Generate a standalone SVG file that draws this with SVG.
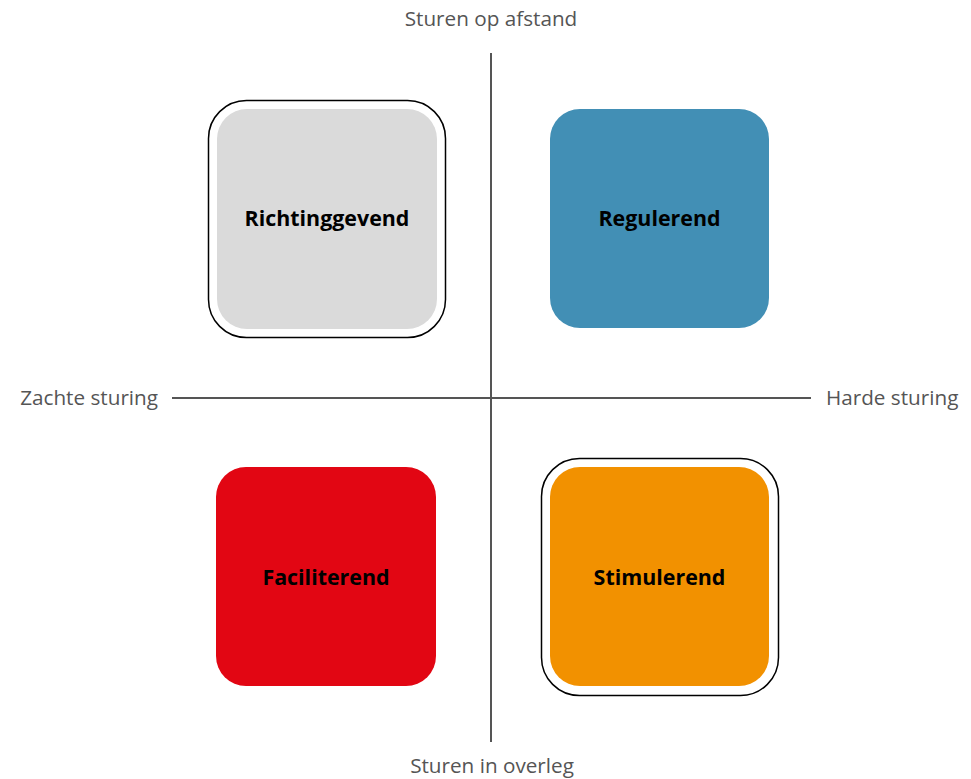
<svg xmlns="http://www.w3.org/2000/svg" width="971" height="779" viewBox="0 0 971 779">
<style>
.axis{stroke:#555;stroke-width:2;fill:none}
.lbl{font-family:"Open Sans","Liberation Sans",sans-serif;font-size:20.7px;fill:#555}
.nt{font-family:"Open Sans","Liberation Sans",sans-serif;font-size:21.4px;font-weight:bold;fill:#000;text-anchor:middle}
.ring{fill:#fff;stroke:#000;stroke-width:1.5}
</style>
<rect width="971" height="779" fill="#fff"/>
<g id="connectors">
<line class="axis" x1="491" y1="53" x2="491" y2="742"/>
<line class="axis" x1="172" y1="398" x2="811" y2="398"/>
</g>
<g id="axis-labels">
<text class="lbl" x="491" y="26" text-anchor="middle">Sturen op afstand</text>
<text class="lbl" x="492" y="773" text-anchor="middle">Sturen in overleg</text>
<text class="lbl" x="158" y="405" text-anchor="end">Zachte sturing</text>
<text class="lbl" x="826" y="405">Harde sturing</text>
</g>
<g id="richtinggevend">
<rect class="ring" x="208.5" y="100.5" width="237" height="237" rx="38"/>
<rect x="217" y="109" width="220" height="220" rx="30" fill="#dadada"/>
<text class="nt" x="327" y="226">Richtinggevend</text>
</g>
<g id="regulerend">
<rect x="550" y="109" width="219" height="219" rx="30" fill="#428fb5"/>
<text class="nt" x="659.5" y="226">Regulerend</text>
</g>
<g id="faciliterend">
<rect x="216" y="467" width="220" height="219" rx="30" fill="#e20613"/>
<text class="nt" x="326" y="585">Faciliterend</text>
</g>
<g id="stimulerend">
<rect class="ring" x="541.5" y="458.5" width="237" height="237" rx="38"/>
<rect x="550" y="467" width="219" height="219" rx="30" fill="#f29100"/>
<text class="nt" x="659.5" y="585">Stimulerend</text>
</g>
</svg>
